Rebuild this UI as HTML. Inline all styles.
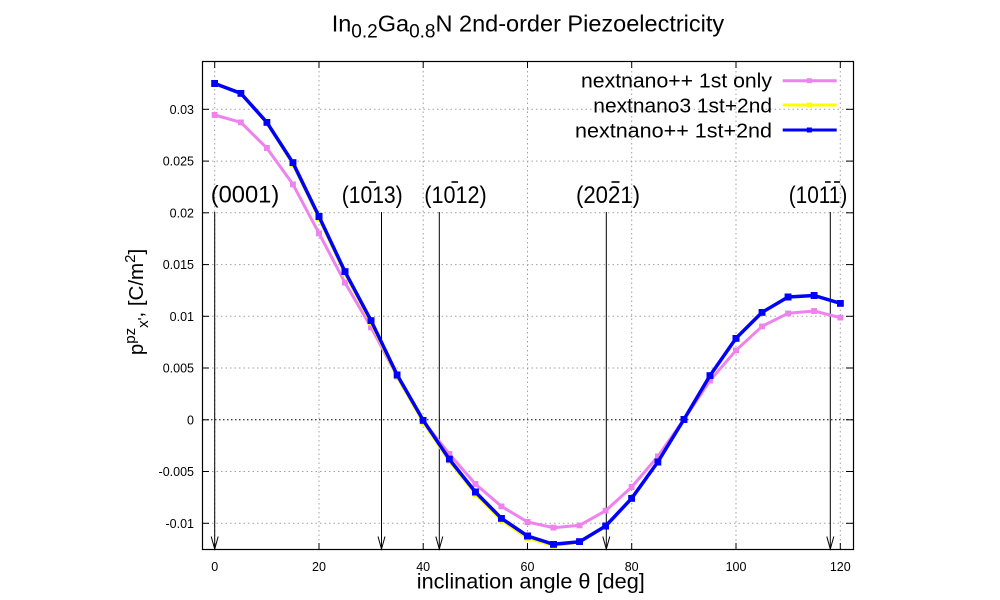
<!DOCTYPE html>
<html>
<head>
<meta charset="utf-8">
<style>
  html,body{margin:0;padding:0;background:#fff;}
  svg{display:block;font-family:"Liberation Sans","DejaVu Sans",sans-serif;}
</style>
</head>
<body>
<svg width="1000" height="600" viewBox="0 0 1000 600" xmlns="http://www.w3.org/2000/svg">
  <defs>
    <marker id="mp" viewBox="0 0 6 6" refX="3" refY="3" markerWidth="6" markerHeight="6" markerUnits="userSpaceOnUse"><rect width="6" height="6" fill="#ee82ee"/></marker>
    <marker id="my" viewBox="0 0 6 6" refX="3" refY="3" markerWidth="6" markerHeight="6" markerUnits="userSpaceOnUse"><rect width="6" height="6" fill="#ffff00"/></marker>
    <marker id="mb" viewBox="0 0 7 7" refX="3.5" refY="3.5" markerWidth="7" markerHeight="7" markerUnits="userSpaceOnUse"><rect width="7" height="7" fill="#0000ff"/></marker>
  </defs>
  <rect width="1000" height="600" fill="#fff"/>

  <!-- grid -->
  <g stroke="#a0a0a0" stroke-width="1" stroke-dasharray="1.5,3" fill="none">
    <line x1="214.7" y1="62" x2="214.7" y2="549"/>
    <line x1="319.0" y1="62" x2="319.0" y2="549"/>
    <line x1="423.2" y1="62" x2="423.2" y2="549"/>
    <line x1="527.5" y1="62" x2="527.5" y2="549"/>
    <line x1="631.7" y1="62" x2="631.7" y2="549"/>
    <line x1="736.0" y1="62" x2="736.0" y2="549"/>
    <line x1="840.3" y1="62" x2="840.3" y2="549"/>
    <line x1="203" y1="109.3" x2="853" y2="109.3"/>
    <line x1="203" y1="161.1" x2="853" y2="161.1"/>
    <line x1="203" y1="212.8" x2="853" y2="212.8"/>
    <line x1="203" y1="264.6" x2="853" y2="264.6"/>
    <line x1="203" y1="316.3" x2="853" y2="316.3"/>
    <line x1="203" y1="368.0" x2="853" y2="368.0"/>
    <line x1="203" y1="471.5" x2="853" y2="471.5"/>
    <line x1="203" y1="523.3" x2="853" y2="523.3"/>
  </g>
  <line x1="203" y1="419.8" x2="853" y2="419.8" stroke="#000" stroke-width="1" stroke-dasharray="1.5,2.5"/>

  <!-- ticks -->
  <g stroke="#000" stroke-width="1">
    <line x1="214.7" y1="549" x2="214.7" y2="543"/><line x1="214.7" y1="62" x2="214.7" y2="68"/>
    <line x1="319.0" y1="549" x2="319.0" y2="543"/><line x1="319.0" y1="62" x2="319.0" y2="68"/>
    <line x1="423.2" y1="549" x2="423.2" y2="543"/><line x1="423.2" y1="62" x2="423.2" y2="68"/>
    <line x1="527.5" y1="549" x2="527.5" y2="543"/><line x1="527.5" y1="62" x2="527.5" y2="68"/>
    <line x1="631.7" y1="549" x2="631.7" y2="543"/><line x1="631.7" y1="62" x2="631.7" y2="68"/>
    <line x1="736.0" y1="549" x2="736.0" y2="543"/><line x1="736.0" y1="62" x2="736.0" y2="68"/>
    <line x1="840.3" y1="549" x2="840.3" y2="543"/><line x1="840.3" y1="62" x2="840.3" y2="68"/>
    <line x1="202" y1="109.3" x2="209" y2="109.3"/><line x1="853" y1="109.3" x2="846" y2="109.3"/>
    <line x1="202" y1="161.1" x2="209" y2="161.1"/><line x1="853" y1="161.1" x2="846" y2="161.1"/>
    <line x1="202" y1="212.8" x2="209" y2="212.8"/><line x1="853" y1="212.8" x2="846" y2="212.8"/>
    <line x1="202" y1="264.6" x2="209" y2="264.6"/><line x1="853" y1="264.6" x2="846" y2="264.6"/>
    <line x1="202" y1="316.3" x2="209" y2="316.3"/><line x1="853" y1="316.3" x2="846" y2="316.3"/>
    <line x1="202" y1="368.0" x2="209" y2="368.0"/><line x1="853" y1="368.0" x2="846" y2="368.0"/>
    <line x1="202" y1="419.8" x2="209" y2="419.8"/><line x1="853" y1="419.8" x2="846" y2="419.8"/>
    <line x1="202" y1="471.5" x2="209" y2="471.5"/><line x1="853" y1="471.5" x2="846" y2="471.5"/>
    <line x1="202" y1="523.3" x2="209" y2="523.3"/><line x1="853" y1="523.3" x2="846" y2="523.3"/>
  </g>

  <!-- frame -->
  <rect x="202.5" y="61.5" width="651" height="488" fill="none" stroke="#000" stroke-width="1.2"/>

  <!-- tick labels -->
  <g font-size="12.5" fill="#000" text-anchor="end">
    <text x="194" y="113.8">0.03</text>
    <text x="194" y="165.6">0.025</text>
    <text x="194" y="217.3">0.02</text>
    <text x="194" y="269.1">0.015</text>
    <text x="194" y="320.8">0.01</text>
    <text x="194" y="372.5">0.005</text>
    <text x="194" y="424.3">0</text>
    <text x="194" y="476.0">-0.005</text>
    <text x="194" y="527.8">-0.01</text>
  </g>
  <g font-size="12.5" fill="#000" text-anchor="middle">
    <text x="214.7" y="571">0</text>
    <text x="319.0" y="571">20</text>
    <text x="423.2" y="571">40</text>
    <text x="527.5" y="571">60</text>
    <text x="631.7" y="571">80</text>
    <text x="736.0" y="571">100</text>
    <text x="840.3" y="571">120</text>
  </g>

  <!-- annotation arrows -->
  <g stroke="#000" stroke-width="1" fill="none">
    <line x1="214.7" y1="212" x2="214.7" y2="549"/>
    <polyline points="211.2,536.5 214.7,549 218.2,536.5"/>
    <line x1="381.5" y1="212" x2="381.5" y2="549"/>
    <polyline points="378,536.5 381.5,549 385,536.5"/>
    <line x1="439.3" y1="212" x2="439.3" y2="549"/>
    <polyline points="435.8,536.5 439.3,549 442.8,536.5"/>
    <line x1="606.3" y1="212" x2="606.3" y2="549"/>
    <polyline points="602.8,536.5 606.3,549 609.8,536.5"/>
    <line x1="830.3" y1="212" x2="830.3" y2="549"/>
    <polyline points="826.8,536.5 830.3,549 833.8,536.5"/>
  </g>

  <!-- annotation labels -->
  <g font-size="24" fill="#000">
    <text x="210.7" y="202.5" textLength="68.6" lengthAdjust="spacingAndGlyphs">(0001)</text>
    <text x="341.7" y="203" textLength="61" lengthAdjust="spacingAndGlyphs">(1013)</text>
    <text x="424.3" y="203" textLength="62.4" lengthAdjust="spacingAndGlyphs">(1012)</text>
    <text x="576" y="203" textLength="64" lengthAdjust="spacingAndGlyphs">(2021)</text>
    <text x="788.7" y="203" textLength="58.6" lengthAdjust="spacingAndGlyphs">(1011)</text>
  </g>
  <g stroke="#000" stroke-width="1.6">
    <line x1="369" y1="182" x2="376" y2="182"/>
    <line x1="451.5" y1="182" x2="458" y2="182"/>
    <line x1="611.5" y1="182" x2="619.5" y2="182"/>
    <line x1="825" y1="182" x2="830.7" y2="182"/>
    <line x1="834" y1="182" x2="840" y2="182"/>
  </g>

  <!-- series -->
  <polyline fill="none" stroke="#ee82ee" stroke-width="3" stroke-linejoin="round"
    marker-start="url(#mp)" marker-mid="url(#mp)" marker-end="url(#mp)"
    points="214.7,115 240.8,122.3 266.8,148 292.9,184.3 319.0,233.3 345.0,282.7 371.1,327.3 397.2,376.5 423.2,421 449.3,454 475.4,484 501.4,506.3 527.5,522 553.5,527.7 579.6,525.3 605.7,510.7 631.7,487 657.8,456.5 683.9,419.5 709.9,380.7 736.0,350.3 762.1,326.3 788.1,313.3 814.2,311 840.3,317.7"/>
  <polyline fill="none" stroke="#ffff00" stroke-width="3" stroke-linejoin="round"
    marker-start="url(#my)" marker-mid="url(#my)" marker-end="url(#my)"
    points="214.7,83.5 240.8,93.3 266.8,123 292.9,164.2 319.0,218.5 345.0,273.7 371.1,322.7 397.2,377 423.2,422.3 449.3,461.2 475.4,494 501.4,520.3 527.5,538 553.5,545.8 579.6,542.2 605.7,526 631.7,498.3 657.8,462 683.9,419.5 709.9,375.7 736.0,338.3 762.1,312.3 788.1,297 814.2,295.5 840.3,303.3"/>
  <polyline fill="none" stroke="#0000ff" stroke-width="3.5" stroke-linejoin="round"
    marker-start="url(#mb)" marker-mid="url(#mb)" marker-end="url(#mb)"
    points="214.7,83.5 240.8,93.3 266.8,122.3 292.9,162.7 319.0,216.5 345.0,271.7 371.1,320.7 397.2,375 423.2,420.3 449.3,459.2 475.4,492 501.4,518.3 527.5,536 553.5,544.3 579.6,541.7 605.7,526 631.7,498.3 657.8,462 683.9,419.5 709.9,375.7 736.0,338.3 762.1,312.3 788.1,297 814.2,295.5 840.3,303.3"/>

  <!-- legend -->
  <g font-size="20.5" fill="#000" text-anchor="end">
    <text x="772" y="87.7" textLength="191" lengthAdjust="spacingAndGlyphs">nextnano++ 1st only</text>
    <text x="772" y="112.5" textLength="178.7" lengthAdjust="spacingAndGlyphs">nextnano3 1st+2nd</text>
    <text x="772" y="137.3" textLength="197" lengthAdjust="spacingAndGlyphs">nextnano++ 1st+2nd</text>
  </g>
  <line x1="782.7" y1="80.7" x2="836.7" y2="80.7" stroke="#ee82ee" stroke-width="3"/>
  <rect x="806.8" y="78.2" width="5" height="5" fill="#ee82ee"/>
  <line x1="782.7" y1="105" x2="836.7" y2="105" stroke="#ffff00" stroke-width="3"/>
  <rect x="806.8" y="102.5" width="5" height="5" fill="#ffff00"/>
  <line x1="782.7" y1="130" x2="836.7" y2="130" stroke="#0000ff" stroke-width="3"/>
  <rect x="806.8" y="127.5" width="5" height="5" fill="#0000ff"/>

  <!-- title -->
  <text x="331.7" y="31.7" font-size="23.5" fill="#000">In<tspan dy="5.6" font-size="19">0.2</tspan><tspan dy="-5.6">Ga</tspan><tspan dy="5.6" font-size="19">0.8</tspan><tspan dy="-5.6">N 2nd-order Piezoelectricity</tspan></text>

  <!-- x label -->
  <text x="530.8" y="588.3" font-size="21" fill="#000" text-anchor="middle" textLength="228" lengthAdjust="spacingAndGlyphs">inclination angle θ [deg]</text>

  <!-- y label -->
  <text transform="translate(143,302) rotate(-90)" font-size="20.5" fill="#000" text-anchor="middle">p<tspan dy="-8" font-size="15">pz</tspan><tspan dy="13" font-size="15">x'</tspan><tspan dy="-5">, [C/m</tspan><tspan dy="-8" font-size="15">2</tspan><tspan dy="8">]</tspan></text>
</svg>
</body>
</html>
